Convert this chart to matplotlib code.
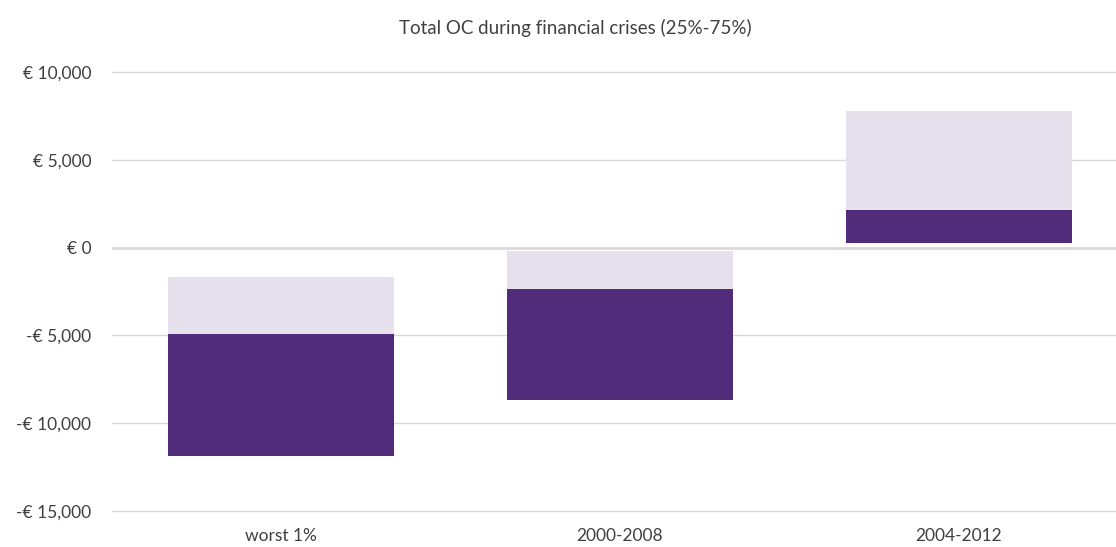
import matplotlib.pyplot as plt
from matplotlib.ticker import FuncFormatter

# Total OC per scenario: lower quartile, median and upper quartile (EUR)
scenarios = ['worst 1%', '2000-2008', '2004-2012']
q25 = [-11845, -8656, 285]
median = [-4897, -2335, 2164]
q75 = [-1651, -171, 7802]

dark = '#512C7A'
light = '#E7E1EE'
grid = '#D9D9D9'
text = '#404040'

plt.rcParams['font.family'] = ['Lato', 'DejaVu Sans']

fig = plt.figure(figsize=(11.16, 5.47), dpi=100)
ax = fig.add_axes([112 / 1116, 1 - 511 / 547, 1016 / 1116, 439 / 547])

x = range(len(scenarios))
width = 0.667
ax.bar(x, [m - lo for m, lo in zip(median, q25)], bottom=q25, width=width,
       color=dark, zorder=3)
ax.bar(x, [hi - m for hi, m in zip(q75, median)], bottom=median, width=width,
       color=light, zorder=3)

ax.set_xlim(-0.5, 2.5)
ax.set_ylim(-15000, 10000)
ax.set_yticks(range(-15000, 10001, 5000))


def euro(v, pos):
    s = '€ {:,.0f}'.format(abs(v))
    return '-' + s if v < 0 else s


ax.yaxis.set_major_formatter(FuncFormatter(euro))
ax.set_xticks(list(x))
ax.set_xticklabels(scenarios)
ax.tick_params(axis='both', length=0, labelsize=12.5, colors=text)
ax.tick_params(axis='y', pad=15)
ax.tick_params(axis='x', pad=12)

ax.grid(axis='y', color=grid, linewidth=1, zorder=0)
for line in ax.get_ygridlines():
    line.set_clip_on(False)
ax.axhline(0, color=grid, linewidth=2, zorder=1)
for s in ax.spines.values():
    s.set_visible(False)

fig.text(575 / 1116, 1 - 28 / 547, 'Total OC during financial crises (25%-75%)',
         ha='center', va='center', fontsize=13.5, color=text)

fig.savefig('out.png', dpi=100)
